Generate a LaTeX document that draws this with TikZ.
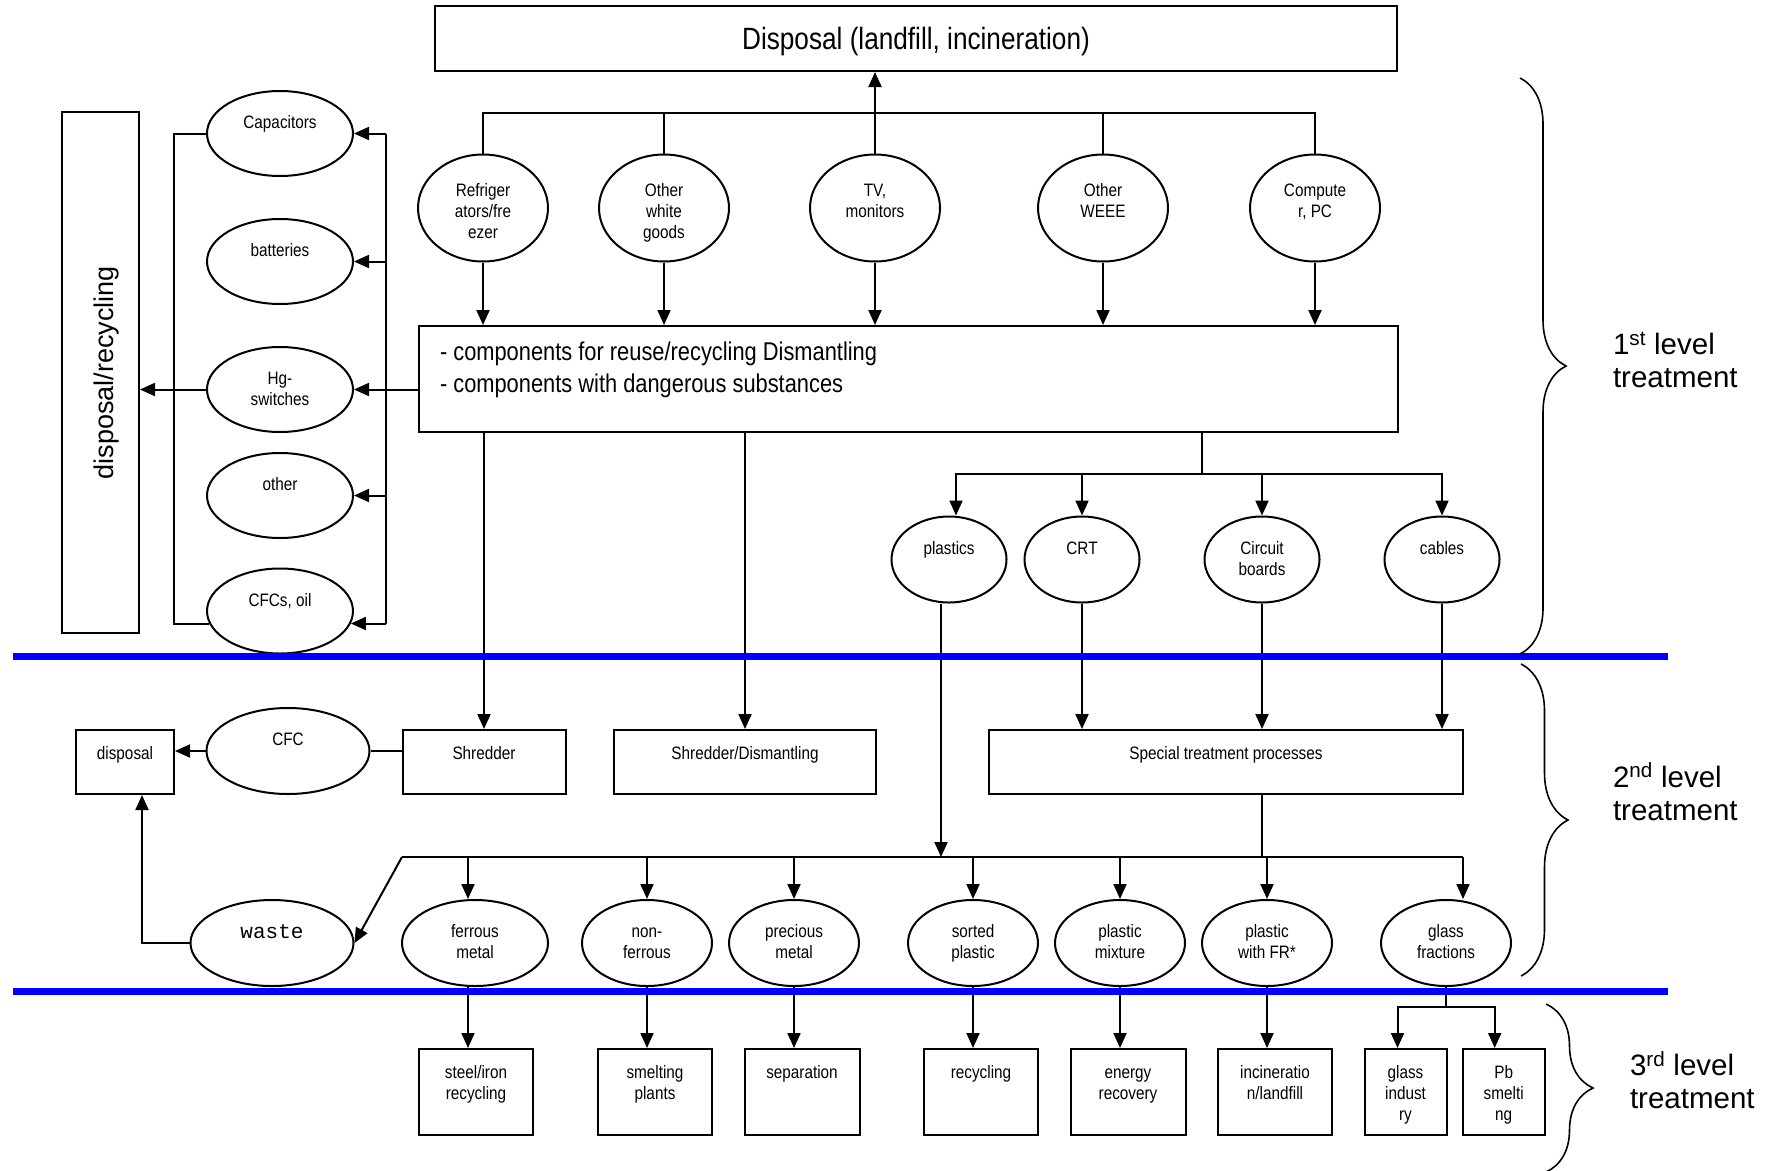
\documentclass[tikz,border=0pt]{standalone}
\usepackage{fontspec}
\setmainfont{Liberation Sans}
\newfontfamily\narrowsf{Liberation Sans}[FakeStretch=0.85]
\newfontfamily\wastemono{Liberation Mono}
\newcommand{\smalltxt}{\narrowsf\fontsize{18}{21}\selectfont}
\newcommand{\midtxt}{\narrowsf\fontsize{25.7}{32}\selectfont}
\newcommand{\headtxt}{\narrowsf\fontsize{30.8}{36}\selectfont}
\newcommand{\wastetxt}{\wastemono\fontsize{21}{24}\selectfont}
\newcommand{\leveltxt}{\fontsize{29.5}{33}\selectfont}
\newcommand{\sidetxt}{\fontsize{27}{32}\selectfont}
\usepackage{tikz}
\usetikzlibrary{arrows.meta}
\usetikzlibrary{shapes}
\usetikzlibrary{decorations.pathreplacing}

\begin{document}
\begin{tikzpicture}[x=1pt, y=-1pt, line width=2pt, >={Triangle[length=15pt,width=13pt]},
  oval/.style={ellipse, draw, line width=2pt, inner sep=0pt, minimum width=130pt, minimum height=86pt},
  rect/.style={rectangle, draw, line width=2pt, inner sep=0pt},
  otxt/.style={label={[anchor=north, yshift=-23.2pt, align=center, inner sep=0pt, font=\smalltxt]north:{\strut #1}}},
  tallotxt/.style={label={[anchor=north, yshift=-27.7pt, align=center, inner sep=0pt, font=\smalltxt]north:{\strut #1}}},
  btxt/.style={label={[anchor=north, yshift=-15.2pt, align=center, inner sep=0pt, font=\smalltxt]north:{\strut #1}}},
  levelbar/.style={blue, line width=7pt},
  levelbrace/.style={decorate, decoration={brace, amplitude=#1}, line width=1.6pt}]
              \fill[white] (0,0) rectangle (1779,1170);
              \useasboundingbox (0,0) rectangle (1779,1170);
              \node[rect, minimum width=962pt, minimum height=65pt, text depth=0pt, font=\headtxt] (disp) at (916,38.5) {Disposal (landfill, incineration)};
              \node[oval, minimum height=107pt, tallotxt={Refriger\\ators/fre\\ezer}] (fridge) at (483,208) {};
              \node[oval, minimum height=107pt, tallotxt={Other\\white\\goods}] (white) at (664,208) {};
              \node[oval, minimum height=107pt, tallotxt={TV,\\monitors}] (tv) at (875,208) {};
              \node[oval, minimum height=107pt, tallotxt={Other\\WEEE}] (weee) at (1103,208) {};
              \node[oval, minimum height=107pt, tallotxt={Compute\\r, PC}] (pc) at (1315,208) {};
              \node[rect, minimum width=979pt, minimum height=106pt] (dism) at (908.5,379) {};
              \node[anchor=north west, align=left, inner sep=0pt, font=\midtxt] (dismtxt) at (439,341) {- components for reuse/recycling Dismantling\\- components with dangerous substances};
              \coordinate (topbus) at (0,113);
              \draw (fridge.north) |- (topbus -| pc.north) -- (pc.north);
              \foreach \n in {white,weee} \draw (\n.north) -- (\n.north |- topbus);
              \draw[->] (tv.north) -- (tv.north |- disp.south);
              \foreach \n in {fridge,white,tv,weee,pc} \draw[->] (\n.south) -- (\n.south |- dism.north);

              \node[rect, minimum width=77pt, minimum height=521pt] (recyc) at (100.5,372.5) {};
              \node[rotate=90, font=\sidetxt] (recyctxt) at (106.5,372.5) {disposal/recycling};
              \node[oval, minimum width=146pt, minimum height=85pt, otxt=Capacitors] (cap) at (280,133.5) {};
              \node[oval, minimum width=146pt, minimum height=85pt, otxt=batteries] (batt) at (280,261.5) {};
              \node[oval, minimum width=146pt, minimum height=85pt, otxt={Hg-\\switches}] (hg) at (280,389.5) {};
              \node[oval, minimum width=146pt, minimum height=85pt, otxt=other] (oth) at (280,495.5) {};
              \node[oval, minimum width=146pt, minimum height=85pt, otxt={CFCs, oil}] (cfcs) at (280,611) {};
              \coordinate (rv) at (386,0);
              \coordinate (lv) at (174,0);
              \draw (rv |- cap.east) -- (rv |- cfcs.-10);
              \foreach \n in {cap,batt,oth} \draw[->] (rv |- \n.east) -- (\n.east);
              \draw[->] (rv |- cfcs.-10) -- (cfcs.-10);
              \draw[->] (dism.west |- hg.east) -- (hg.east);
              \draw (cap.west) -| (lv |- cfcs.190) -- (cfcs.190);
              \draw[->] (hg.west) -- (hg.west -| recyc.east);

              \node[oval, minimum width=115pt, otxt=plastics] (plast) at (949,559.5) {};
              \node[oval, minimum width=115pt, otxt=CRT] (crt) at (1082,559.5) {};
              \node[oval, minimum width=115pt, otxt={Circuit\\boards}] (circ) at (1262,559.5) {};
              \node[oval, minimum width=115pt, otxt=cables] (cab) at (1442,559.5) {};
              \coordinate (split) at (1202,474);
              \draw (dism.south -| split) -- (split);
              \draw[->] (split) -| ([xshift=7pt]plast.north);
              \foreach \n in {crt,circ,cab} \draw[->] (split) -| (\n.north);

              \node[rect, minimum width=98pt, minimum height=64pt, btxt=disposal] (dispo) at (125,762) {};
              \node[oval, minimum width=163pt, otxt=CFC] (cfc) at (288,751) {};
              \node[rect, minimum width=163pt, minimum height=64pt, btxt=Shredder] (shred) at (484,762) {};
              \node[rect, minimum width=262pt, minimum height=64pt, btxt=Shredder/Dismantling] (shdis) at (745,762) {};
              \node[rect, minimum width=474pt, minimum height=64pt, btxt=Special treatment processes] (spec) at (1226,762) {};
              \draw[->] (dism.south -| shred.north) -- (shred.north);
              \draw[->] (dism.south -| shdis.north) -- (shdis.north);
              \draw (shred.west |- cfc.east) -- (cfc.east);
              \draw[->] (cfc.west) -- (cfc.west -| dispo.east);
              \foreach \n in {crt,circ,cab} \draw[->] (\n.south) -- (\n.south |- spec.north);

              \node[oval, minimum width=163pt, label={[anchor=north, yshift=-24pt, inner sep=0pt, font=\wastetxt]north:waste}] (waste) at (272,943) {};
              \node[oval, minimum width=146pt, otxt={ferrous\\metal}] (ferr) at (475,943) {};
              \node[oval, otxt={non-\\ferrous}] (nonf) at (647,943) {};
              \node[oval, otxt={precious\\metal}] (prec) at (794,943) {};
              \node[oval, otxt={sorted\\plastic}] (sort) at (973,943) {};
              \node[oval, otxt={plastic\\mixture}] (mix) at (1120,943) {};
              \node[oval, otxt={plastic\\with FR*}] (fr) at (1267,943) {};
              \node[oval, otxt={glass\\fractions}] (glass) at (1446,943) {};
              \coordinate (busL) at (402,857);
              \coordinate (busR) at (1463,857);
              \draw (busL) -- (busR);
              \draw[->] ([xshift=-8pt]plast.south) -- ([xshift=-8pt]plast.south |- busL);
              \draw (spec.south -| circ.south) -- (circ.south |- busL);
              \draw[->] ([xshift=-7pt]ferr.north |- busL) -- ([xshift=-7pt]ferr.north);
              \foreach \n in {nonf,prec,sort,mix,fr} \draw[->] (busL -| \n.north) -- (\n.north);
              \draw[->] (busR) -- (busR |- glass.north);
              \draw[->] (busL) -- (waste.east);
              \draw[->] (waste.west) -| ([xshift=17pt]dispo.south);

              \node[rect, minimum width=114pt, minimum height=86pt, btxt={steel/iron\\recycling}] (steel) at (476,1092) {};
              \node[rect, minimum width=114pt, minimum height=86pt, btxt={smelting\\plants}] (smelt) at (655,1092) {};
              \node[rect, minimum width=115pt, minimum height=86pt, btxt=separation] (sepa) at (802,1092) {};
              \node[rect, minimum width=114pt, minimum height=86pt, btxt=recycling] (recy) at (981,1092) {};
              \node[rect, minimum width=115pt, minimum height=86pt, btxt={energy\\recovery}] (energy) at (1128,1092) {};
              \node[rect, minimum width=114pt, minimum height=86pt, btxt={incineratio\\n/landfill}] (incin) at (1275,1092) {};
              \node[rect, minimum width=82pt, minimum height=86pt, btxt={glass\\indust\\ry}] (gind) at (1405.5,1092) {};
              \node[rect, minimum width=82pt, minimum height=86pt, btxt={Pb\\smelti\\ng}] (pb) at (1503.7,1092) {};
              \draw[->] ([xshift=-7pt]ferr.south) -- ([xshift=-7pt]ferr.south |- steel.north);
              \foreach \a/\b in {nonf/smelt,prec/sepa,sort/recy,mix/energy,fr/incin} \draw[->] (\a.south) -- (\a.south |- \b.north);
              \coordinate (gsplit) at (1446,1007);
              \draw (glass.south) -- (gsplit);
              \draw[->] (gsplit) -| ([xshift=-8pt]gind.north);
              \draw[->] (gsplit) -| ([xshift=-9pt]pb.north);

              \draw[levelbar] (12.6,656) -- (1668,656);
              \draw[levelbar] (12.6,991) -- (1668,991);
              \draw[levelbrace=46pt] (1520,78) -- (1520,654);
              \draw[levelbrace=47pt] (1521,664) -- (1521,976);
              \draw[levelbrace=47pt] (1546,1004) -- (1546,1172);
              \node[anchor=north west, align=left, inner sep=0pt, font=\leveltxt] (lvlone) at (1612,331.6) {1\textsuperscript{st} level\\treatment};
              \node[anchor=north west, align=left, inner sep=0pt, font=\leveltxt] (lvltwo) at (1612,762) {2\textsuperscript{nd} level\\treatment};
              \node[anchor=north west, align=left, inner sep=0pt, font=\leveltxt] (lvlthree) at (1629,1050.5) {3\textsuperscript{rd} level\\treatment};
            \end{tikzpicture}
\end{document}
